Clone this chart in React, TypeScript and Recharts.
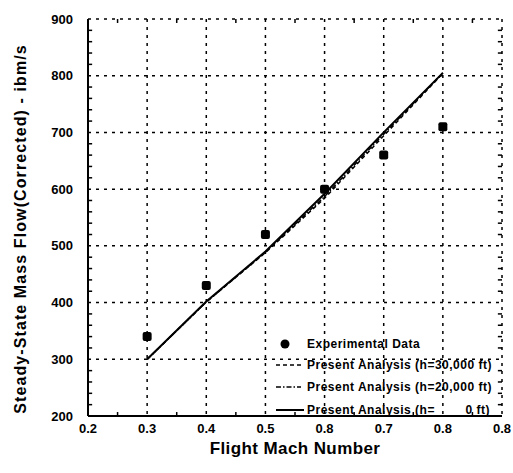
import React from "react";
import {
  ComposedChart,
  CartesianGrid,
  Line,
  Scatter,
  XAxis,
  YAxis,
  ReferenceLine,
} from "recharts";

const machNumbers = [0.3, 0.4, 0.5, 0.6, 0.7, 0.8];
const experimentalData = [340, 430, 520, 600, 660, 710];
const analysis30k = [300, 401, 488, 584, 694, 804];
const analysis20k = [300, 401, 489, 587, 697, 805];
const analysis0 = [300, 402, 490, 592, 700, 805];

const xTicks = [0.2, 0.3, 0.4, 0.5, 0.6, 0.7, 0.8, 0.9];
const xTickLabels = ["0.2", "0.3", "0.4", "0.5", "0.8", "0.7", "0.8", "0.8"];
const yTicks = [200, 300, 400, 500, 600, 700, 800, 900];
const xMinorTicks = [0.25, 0.35, 0.45, 0.55, 0.65, 0.75, 0.85];
const yMinorTicks = Array.from({ length: 36 }, (_, i) => 200 + i * 20).filter((v) => v % 100 !== 0);

const seriesNames = [
  "Experimental Data",
  "Present Analysis (h=30,000 ft)",
  "Present Analysis (h=20,000 ft)",
  "Present Analysis (h=        0 ft)",
];

const chartData = machNumbers.map((m, i) => ({
  mach: m,
  exp: experimentalData[i],
  h30: analysis30k[i],
  h20: analysis20k[i],
  h0: analysis0[i],
}));

const FONT = "'Liberation Sans', Arial, sans-serif";
const X_DOMAIN: [number, number] = [0.2, 0.9];
const Y_DOMAIN: [number, number] = [200, 900];
// minor tick length expressed in data units (about 4px)
const X_TICK_LEN = 0.007;
const Y_TICK_LEN = 7;

function SquareDot(props: any) {
  const { cx, cy } = props;
  return <rect x={cx - 4.5} y={cy - 4.5} width={9} height={9} rx={2} fill="#000" />;
}

function LegendBox() {
  const rowY = [344, 365, 387, 410];
  const icons = [
    <circle cx={9} cy={6} r={4.5} fill="#000" />,
    <line x1={0} y1={6} x2={25} y2={6} stroke="#000" strokeWidth={1.5} strokeDasharray="4 3" />,
    <line x1={0} y1={6} x2={25} y2={6} stroke="#000" strokeWidth={1.5} strokeDasharray="5 2 1.5 2" />,
    <line x1={0} y1={6} x2={28} y2={6} stroke="#000" strokeWidth={2} />,
  ];
  return (
    <>
      {seriesNames.map((name, i) => (
        <div
          key={name}
          style={{
            position: "absolute",
            left: 276,
            top: rowY[i] - 7,
            height: 14,
            display: "flex",
            alignItems: "center",
            fontFamily: FONT,
            fontSize: 12,
            fontWeight: "bold",
            letterSpacing: 0.5,
            color: "#000",
          }}
        >
          <svg width={28} height={12} style={{ marginRight: 3 }}>
            {icons[i]}
          </svg>
          <span style={{ whiteSpace: "pre" }}>{name}</span>
        </div>
      ))}
    </>
  );
}

const tickStyle = { fill: "#000", fontSize: 13, fontWeight: "bold", fontFamily: FONT };
const frameLine = { stroke: "#000", strokeWidth: 2 };

export default function App() {
  return (
    <div style={{ position: "absolute", left: 0, top: 0, width: 513, height: 473, background: "#fff" }}>
      <ComposedChart
        width={513}
        height={473}
        data={chartData}
        margin={{ top: 19, right: 11, bottom: 0, left: 31 }}
      >
        <CartesianGrid
          stroke="#000"
          strokeWidth={1.5}
          strokeDasharray="3 5"
          verticalValues={xTicks}
          horizontalValues={yTicks}
        />
        <XAxis
          dataKey="mach"
          type="number"
          domain={X_DOMAIN}
          ticks={xTicks}
          height={57}
          tickLine={false}
          tickSize={0}
          tickMargin={8}
          axisLine={frameLine}
          tickFormatter={(v: number) => xTickLabels[xTicks.findIndex((t) => Math.abs(t - v) < 1e-6)]}
          tick={tickStyle}
          label={{
            content: (p: any) => (
              <text
                x={p.viewBox.x + p.viewBox.width / 2}
                y={p.viewBox.y + 38}
                textAnchor="middle"
                fontSize={17}
                fontWeight="bold"
                letterSpacing={0.4}
                fontFamily={FONT}
                fill="#000"
              >
                Flight Mach Number
              </text>
            ),
          }}
        />
        <XAxis
          xAxisId="top"
          orientation="top"
          type="number"
          domain={X_DOMAIN}
          height={0}
          tick={false}
          tickLine={false}
          axisLine={frameLine}
        />
        <YAxis
          type="number"
          domain={Y_DOMAIN}
          ticks={yTicks}
          width={57}
          tickLine={false}
          tickSize={0}
          tickMargin={15}
          axisLine={frameLine}
          tick={tickStyle}
          label={{
            content: () => {
              const x = 20;
              const y = 229;
              return (
                <text
                  x={x}
                  y={y}
                  transform={`rotate(-90 ${x} ${y})`}
                  textAnchor="middle"
                  dominantBaseline="central"
                  fontSize={16}
                  fontWeight="bold"
                  letterSpacing={1.1}
                  fontFamily={FONT}
                  fill="#000"
                >
                  Steady-State Mass Flow(Corrected) - ibm/s
                </text>
              );
            },
          }}
        />
        <YAxis
          yAxisId="right"
          orientation="right"
          type="number"
          domain={Y_DOMAIN}
          width={0}
          tick={false}
          tickLine={false}
          axisLine={frameLine}
        />
        {/* inward minor ticks on the frame */}
        {xMinorTicks.map((t) => (
          <ReferenceLine
            key={`xb${t}`}
            segment={[{ x: t, y: Y_DOMAIN[0] }, { x: t, y: Y_DOMAIN[0] + Y_TICK_LEN }]}
            stroke="#000"
            strokeWidth={1.5}
          />
        ))}
        {xMinorTicks.map((t) => (
          <ReferenceLine
            key={`xt${t}`}
            segment={[{ x: t, y: Y_DOMAIN[1] }, { x: t, y: Y_DOMAIN[1] - Y_TICK_LEN }]}
            stroke="#000"
            strokeWidth={1.5}
          />
        ))}
        {yMinorTicks.map((v) => (
          <ReferenceLine
            key={`yl${v}`}
            segment={[{ x: X_DOMAIN[0], y: v }, { x: X_DOMAIN[0] + X_TICK_LEN, y: v }]}
            stroke="#000"
            strokeWidth={1.5}
          />
        ))}
        {yMinorTicks.map((v) => (
          <ReferenceLine
            key={`yr${v}`}
            segment={[{ x: X_DOMAIN[1], y: v }, { x: X_DOMAIN[1] - X_TICK_LEN, y: v }]}
            stroke="#000"
            strokeWidth={1.5}
          />
        ))}
        <Line
          dataKey="h30"
          name={seriesNames[1]}
          stroke="#000"
          strokeWidth={1.5}
          strokeDasharray="4 3"
          dot={false}
          type="linear"
          isAnimationActive={false}
        />
        <Line
          dataKey="h20"
          name={seriesNames[2]}
          stroke="#000"
          strokeWidth={1.5}
          strokeDasharray="5 2 1.5 2"
          dot={false}
          type="linear"
          isAnimationActive={false}
        />
        <Line
          dataKey="h0"
          name={seriesNames[3]}
          stroke="#000"
          strokeWidth={2}
          dot={false}
          type="linear"
          isAnimationActive={false}
        />
        <Scatter
          dataKey="exp"
          name={seriesNames[0]}
          fill="#000"
          shape={<SquareDot />}
          isAnimationActive={false}
        />
      </ComposedChart>
      <LegendBox />
    </div>
  );
}
